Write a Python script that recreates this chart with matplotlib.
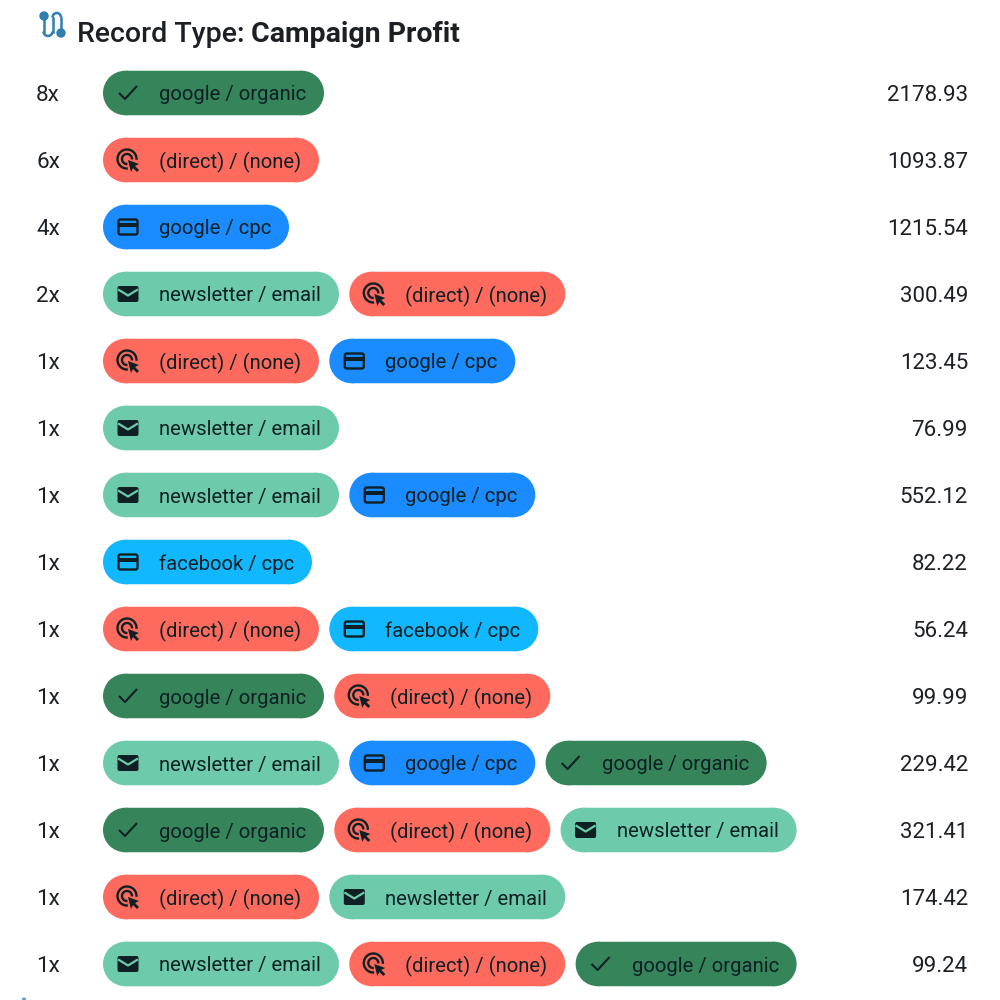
import matplotlib
matplotlib.use('Agg')
import matplotlib.pyplot as plt
from matplotlib.patches import FancyBboxPatch, Rectangle, Circle, Polygon, Arc

plt.rcParams['font.family'] = ['Roboto', 'DejaVu Sans']

# data
counts = ['8x', '6x', '4x', '2x', '1x', '1x', '1x', '1x', '1x', '1x', '1x', '1x', '1x', '1x']
paths = [
    ['organic'],
    ['direct'],
    ['cpc'],
    ['email', 'direct'],
    ['direct', 'cpc'],
    ['email'],
    ['email', 'cpc'],
    ['facebook'],
    ['direct', 'facebook'],
    ['organic', 'direct'],
    ['email', 'cpc', 'organic'],
    ['organic', 'direct', 'email'],
    ['direct', 'email'],
    ['email', 'direct', 'organic'],
]
profits = ['2178.93', '1093.87', '1215.54', '300.49', '123.45', '76.99', '552.12',
           '82.22', '56.24', '99.99', '229.42', '321.41', '174.42', '99.24']

labels = {'organic': 'google / organic', 'direct': '(direct) / (none)', 'cpc': 'google / cpc',
          'email': 'newsletter / email', 'facebook': 'facebook / cpc'}
colors = {'organic': '#36855a', 'direct': '#ff6a5f', 'cpc': '#1a8cff',
          'email': '#6dcbab', 'facebook': '#12b8ff'}
widths = {'organic': 221, 'direct': 216, 'cpc': 186, 'email': 236, 'facebook': 209}
ink = '#0f2024'
text_col = '#1c2024'


def draw_pill(ax, x, y, w, color):
    # the y axis is flipped so circles stay round, the box style would flatten the ends
    r = 22.25
    body = Rectangle((x + r, y - r), w - 2 * r, 2 * r, fc=color, ec='none')
    body.set_snap(False)
    ax.add_patch(body)
    ax.add_patch(Circle((x + r, y), r, fc=color, ec='none'))
    ax.add_patch(Circle((x + w - r, y), r, fc=color, ec='none'))


def draw_icon(ax, kind, cx, cy, bg):
    if kind == 'organic':
        ax.plot([cx - 9, cx - 3, cx + 9], [cy, cy + 6, cy - 7], color=ink, lw=1.5, solid_capstyle='butt')
    elif kind == 'direct':
        ax.add_patch(Arc((cx - 1, cy - 1), 19, 19, theta1=85, theta2=365, color=ink, lw=1.7))
        ax.add_patch(Arc((cx - 1, cy - 1), 10, 10, theta1=85, theta2=365, color=ink, lw=1.7))
        ax.add_patch(Polygon([(cx, cy), (cx + 11, cy + 4), (cx + 7, cy + 6), (cx + 11, cy + 10),
                              (cx + 9, cy + 12), (cx + 5, cy + 8), (cx + 3, cy + 12)],
                             closed=True, color=ink, lw=0, zorder=5))
    elif kind in ('cpc', 'facebook'):
        ax.add_patch(FancyBboxPatch((cx - 9.5, cy - 7.5), 19, 15, boxstyle='round,pad=0,rounding_size=2',
                                    fc='none', ec=ink, lw=1.7))
        ax.add_patch(Rectangle((cx - 10, cy - 4), 20, 4, fc=ink, ec='none'))
    else:
        ax.add_patch(FancyBboxPatch((cx - 10.5, cy - 8), 21, 16, boxstyle='round,pad=0,rounding_size=2',
                                    fc=ink, ec='none'))
        ax.plot([cx - 9, cx, cx + 9], [cy - 4, cy + 1.5, cy - 4], color=bg, lw=1.6, zorder=5)


fig = plt.figure(figsize=(10, 10), dpi=100)
ax = fig.add_axes([0, 0, 1, 1])
ax.set_xlim(0, 1000)
ax.set_ylim(1000, 0)
ax.axis('off')

# header icon
icon_blue = '#2f7fb0'
ax.plot([43.5, 43.5], [16, 31.5], color=icon_blue, lw=1.8)
ax.add_patch(Arc((48, 31.5), 9, 9, theta1=0, theta2=180, color=icon_blue, lw=1.8))
ax.plot([52.5, 52.5], [31.5, 17.5], color=icon_blue, lw=1.8)
ax.add_patch(Arc((56.75, 17.5), 8.5, 9, theta1=180, theta2=360, color=icon_blue, lw=1.8))
ax.plot([61, 61], [17.5, 33], color=icon_blue, lw=1.8)
ax.add_patch(Circle((44, 16), 4, color=icon_blue))
ax.add_patch(Circle((61, 33), 4, color=icon_blue))
# top of the next section's icon, cut off by the bottom edge
ax.add_patch(Circle((24, 999.5), 1.5, color=icon_blue, alpha=0.6))

ax.text(77, 32, 'Record Type: ', fontsize=20.5, fontweight='medium', color=text_col,
        va='center_baseline', ha='left')
ax.text(251, 32, 'Campaign Profit', fontsize=20.5, fontweight='bold', color=text_col,
        va='center_baseline', ha='left')

for i, (count, path, profit) in enumerate(zip(counts, paths, profits)):
    y = 93 + 67 * i
    ax.text(36, y, count, fontsize=16.2, color=text_col, va='center_baseline', ha='left')
    ax.text(968, y, profit, fontsize=16, color=text_col, va='center_baseline', ha='right')
    x = 103
    for src in path:
        w = widths[src]
        draw_pill(ax, x, y, w, colors[src])
        draw_icon(ax, src, x + 25, y, colors[src])
        ax.text(x + 56, y, labels[src], fontsize=14.6, color=ink, va='center_baseline', ha='left')
        x += w + 10.3

fig.savefig('out.png', dpi=100)
